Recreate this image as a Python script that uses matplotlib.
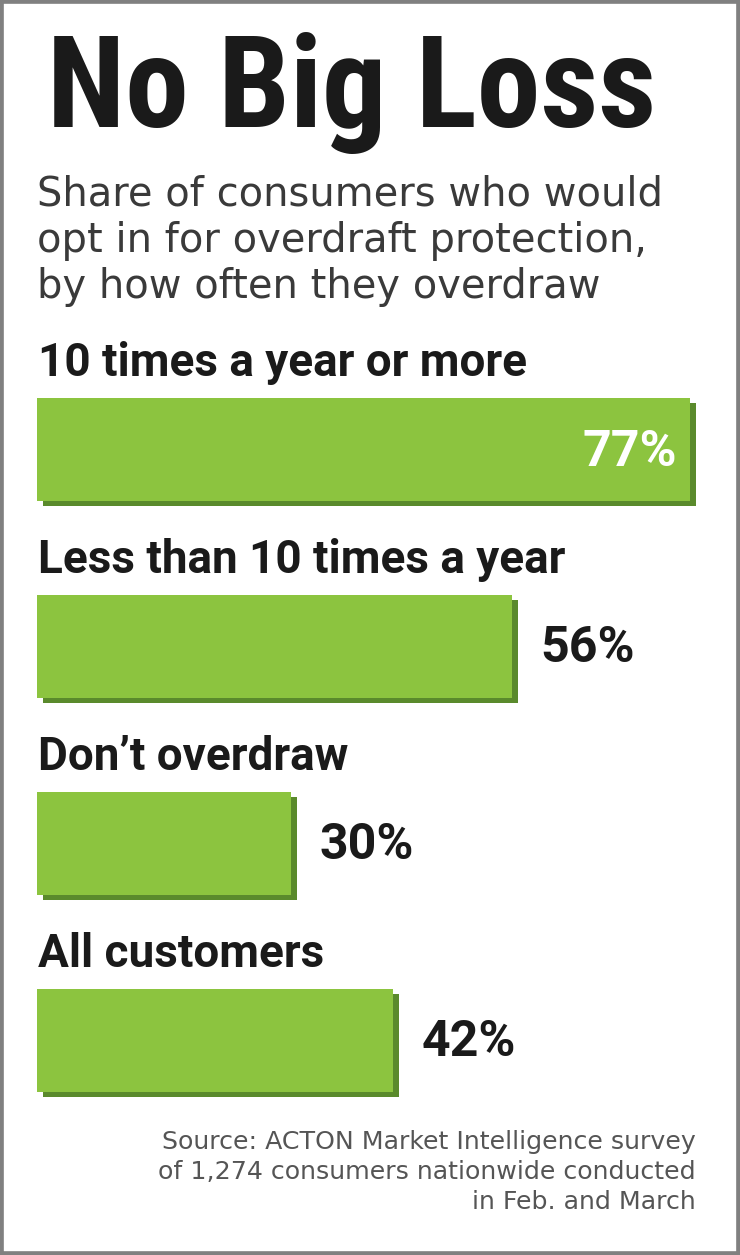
import matplotlib
matplotlib.use("Agg")
import matplotlib.pyplot as plt
from matplotlib import font_manager
from matplotlib.font_manager import FontProperties
from matplotlib.patches import Rectangle
from matplotlib.transforms import ScaledTranslation

# ---- data ----
title = "No Big Loss"
subtitle_lines = ["Share of consumers who would",
                  "opt in for overdraft protection,",
                  "by how often they overdraw"]
categories = ["10 times a year or more", "Less than 10 times a year",
              "Don\u2019t overdraw", "All customers"]
values = [77, 56, 30, 42]
value_labels = ["77%", "56%", "30%", "42%"]
source_lines = ["Source: ACTON Market Intelligence survey",
                "of 1,274 consumers nationwide conducted",
                "in Feb. and March"]

# ---- fonts (resolved to exact files for deterministic rendering) ----
def font_for(cands, weight):
    entries = font_manager.fontManager.ttflist
    for c in cands:
        opts = [f for f in entries if f.name == c and f.style == "normal"]
        if opts:
            best = min(opts, key=lambda f: abs((f.weight if isinstance(f.weight, int) else 400) - weight))
            return FontProperties(fname=best.fname)
    return FontProperties(family="DejaVu Sans", weight=weight)

title_fp = font_for(["Roboto Condensed", "Liberation Sans Narrow", "DejaVu Sans Condensed",
                     "Roboto", "Liberation Sans"], 700)
label_fp = font_for(["Roboto", "Liberation Sans", "DejaVu Sans"], 700)
plain_fp = font_for(["DejaVu Sans"], 400)

W, H, DPI = 740, 1255, 100
fig = plt.figure(figsize=(W / DPI, H / DPI), dpi=DPI)
fig.patch.set_facecolor("white")

# axes spanning the figure; x in percent, y in category index
px_per_pct = 8.48
x_left_px = 37
ax = fig.add_axes([0, 0, 1, 1])
ax.set_xlim(-x_left_px / px_per_pct, (W - x_left_px) / px_per_pct)
row0_px, row_step_px = 449, 197
ax.set_ylim((H - row0_px) / row_step_px, (0 - row0_px) / row_step_px)
ax.axis("off")

ypos = list(range(len(categories)))
bar_h = 103 / row_step_px
bar_color = "#8cc43f"
shadow_color = "#5a8a2c"

shadow = ax.barh(ypos, values, height=bar_h, color=shadow_color, zorder=1)
off = ScaledTranslation(6 / DPI, -5 / DPI, fig.dpi_scale_trans)
for p in shadow.patches:
    p.set_transform(ax.transData + off)
ax.barh(ypos, values, height=bar_h, color=bar_color, zorder=2)

renderer = fig.canvas.get_renderer()
def fit(t, target_w, max_fs=None):
    w = t.get_window_extent(renderer).width
    f = t.get_fontsize() * target_w / w
    if max_fs is not None:
        f = min(f, max_fs)
    t.set_fontsize(f)
    return f

def fp(base, size):
    p = base.copy()
    p.set_size(size)
    return p

# category labels
cat_texts = []
for i, c in enumerate(categories):
    t = ax.text(0.1, i - 73 / row_step_px, c, ha="left", va="baseline",
                fontproperties=fp(label_fp, 26), color="#1a1a1a", zorder=3)
    cat_texts.append(t)
fs = fit(cat_texts[1], 544, max_fs=33)
for t in cat_texts:
    t.set_fontsize(fs)

# value labels
val_texts = []
for i, (v, lab) in enumerate(zip(values, value_labels)):
    if v >= 70:
        t = ax.text(v - 13 / px_per_pct, i + 17 / row_step_px, lab, ha="right", va="baseline",
                    fontproperties=fp(label_fp, 26), color="white", zorder=3)
    else:
        t = ax.text(v + 28 / px_per_pct, i + 16 / row_step_px, lab, ha="left", va="baseline",
                    fontproperties=fp(label_fp, 26), color="#1a1a1a", zorder=3)
    val_texts.append(t)
fs = fit(val_texts[1], 98, max_fs=36)
for t in val_texts:
    t.set_fontsize(fs)

def fy(px):
    return 1 - px / H

# title
tt = fig.text(47 / W, fy(127), title, ha="left", va="baseline",
              fontproperties=fp(title_fp, 90), color="#1a1a1a")
fit(tt, 610, max_fs=95)

# subtitle
sub_base = [205, 252, 298]
sub_texts = [fig.text(37 / W, fy(b), s, ha="left", va="baseline",
                      fontproperties=fp(plain_fp, 30), color="#3a3a3a")
             for s, b in zip(subtitle_lines, sub_base)]
fs = fit(sub_texts[0], 645, max_fs=28.8)
for t in sub_texts:
    t.set_fontsize(fs)

# source
src_base = [1149, 1179, 1209]
src_texts = [fig.text(696 / W, fy(b), s, ha="right", va="baseline",
                      fontproperties=fp(plain_fp, 18), color="#555555")
             for s, b in zip(source_lines, src_base)]
fs = fit(src_texts[1], 600, max_fs=18.2)
for t in src_texts:
    t.set_fontsize(fs)

# outer frame
fig.patches.append(Rectangle((0, 0), 1, 1, transform=fig.transFigure, fill=False,
                             edgecolor="#808080", linewidth=5.5, zorder=10))

fig.savefig("out.png", dpi=DPI, facecolor="white")
